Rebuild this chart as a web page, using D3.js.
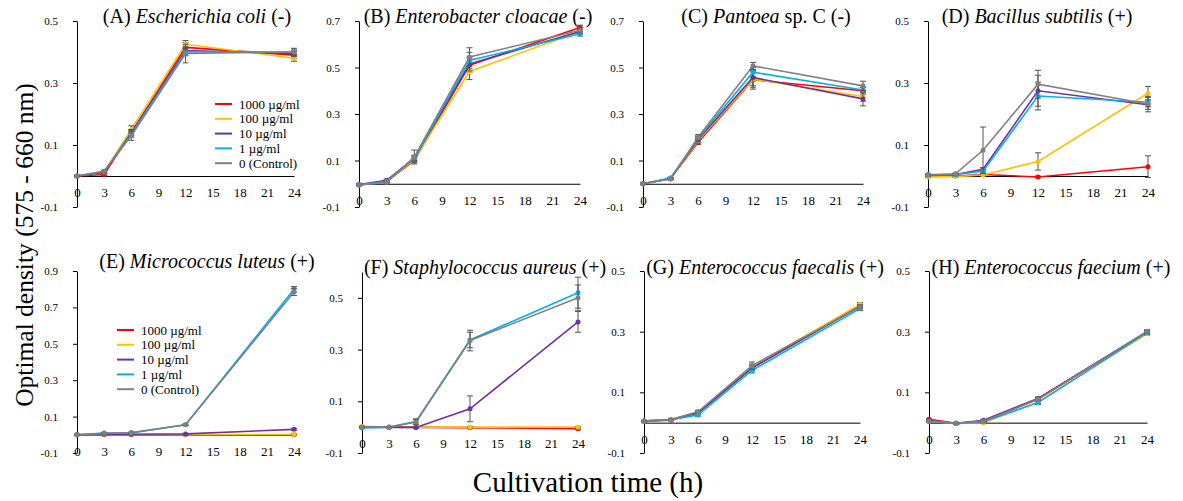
<!DOCTYPE html>
<html>
<head>
<meta charset="utf-8">
<script src="https://cdn.jsdelivr.net/npm/d3@7"></script>
<style>
body { margin: 0; background: #fff; }
svg, svg text { font-family: "Liberation Serif", "Times New Roman", serif; }
</style>
</head>
<body>
<svg id="chart" width="1183" height="501"></svg>
<script>
// sampling times (h) and treatment groups
const times = [0, 3, 6, 12, 24];
const concLabels = ["1000 \u00b5g/ml", "100 \u00b5g/ml", "10 \u00b5g/ml", "1 \u00b5g/ml", "0 (Control)"];
const concColors = ["#ff0000", "#ffc000", "#7030a0", "#00b0f0", "#808080"];
const xTicks = [0, 3, 6, 9, 12, 15, 18, 21, 24];

// mean OD per group: rows = 1000, 100, 10, 1, 0 (control)
const coliMean = [
    [0, 0.005, 0.14, 0.415, 0.39],
    [0, 0.012, 0.15, 0.425, 0.38],
    [0, 0.012, 0.14, 0.405, 0.395],
    [0, 0.015, 0.135, 0.40, 0.40],
    [0, 0.015, 0.13, 0.395, 0.40]
];
const coliErr = [
    [0.002, 0.003, 0.01, 0.015, 0.012],
    [0.002, 0.003, 0.012, 0.012, 0.01],
    [0.002, 0.003, 0.01, 0.012, 0.01],
    [0.002, 0.003, 0.01, 0.012, 0.01],
    [0.002, 0.004, 0.015, 0.03, 0.012]
];
const cloacaeMean = [
    [-0.005, 0.01, 0.10, 0.51, 0.672],
    [-0.005, 0.01, 0.105, 0.483, 0.655],
    [-0.003, 0.015, 0.11, 0.515, 0.655],
    [-0.005, 0.01, 0.11, 0.53, 0.645],
    [-0.005, 0.005, 0.115, 0.545, 0.66]
];
const cloacaeErr = [
    [0.003, 0.004, 0.01, 0.03, 0.01],
    [0.003, 0.004, 0.01, 0.035, 0.01],
    [0.003, 0.004, 0.01, 0.03, 0.01],
    [0.003, 0.004, 0.012, 0.035, 0.01],
    [0.003, 0.004, 0.03, 0.04, 0.012]
];
const pantoeaMean = [
    [0, 0.022, 0.178, 0.447, 0.40],
    [0, 0.022, 0.185, 0.45, 0.375],
    [0, 0.022, 0.19, 0.457, 0.365],
    [0, 0.025, 0.195, 0.48, 0.403],
    [0, 0.02, 0.199, 0.507, 0.421]
];
const pantoeaErr = [
    [0.002, 0.003, 0.01, 0.04, 0.015],
    [0.002, 0.003, 0.01, 0.035, 0.02],
    [0.002, 0.003, 0.01, 0.035, 0.03],
    [0.002, 0.003, 0.01, 0.02, 0.012],
    [0.002, 0.003, 0.012, 0.015, 0.02]
];
const subtilisMean = [
    [0.0, 0.0, 0.005, -0.003, 0.03],
    [-0.003, -0.002, 0.003, 0.047, 0.267],
    [0.003, 0.005, 0.022, 0.275, 0.23],
    [0.005, 0.005, 0.015, 0.258, 0.238],
    [0.003, 0.007, 0.083, 0.296, 0.232]
];
const subtilisErr = [
    [0.002, 0.002, 0.003, 0.003, 0.035],
    [0.002, 0.002, 0.003, 0.028, 0.022],
    [0.002, 0.002, 0.005, 0.05, 0.015],
    [0.002, 0.002, 0.005, 0.045, 0.015],
    [0.002, 0.003, 0.075, 0.045, 0.025]
];
const luteusMean = [
    [0, 0.0, 0.0, 0.0, 0.0],
    [0, 0.0, 0.0, 0.0, 0.002],
    [0, 0.003, 0.003, 0.005, 0.03],
    [0, 0.01, 0.01, 0.055, 0.80],
    [0, 0.008, 0.012, 0.055, 0.785]
];
const luteusErr = [
    [0.002, 0.002, 0.002, 0.002, 0.002],
    [0.002, 0.002, 0.002, 0.002, 0.003],
    [0.002, 0.002, 0.002, 0.003, 0.005],
    [0.002, 0.003, 0.003, 0.004, 0.015],
    [0.002, 0.003, 0.003, 0.004, 0.02]
];
const aureusMean = [
    [0, 0, 0, -0.002, -0.006],
    [0.003, 0.0, 0.0, 0.0, 0.0],
    [0, 0, -0.001, 0.071, 0.407],
    [-0.003, 0, 0.022, 0.337, 0.52],
    [0, 0, 0.02, 0.335, 0.50]
];
const aureusErr = [
    [0.002, 0.002, 0.002, 0.002, 0.003],
    [0.002, 0.002, 0.002, 0.002, 0.003],
    [0.002, 0.002, 0.003, 0.05, 0.04],
    [0.002, 0.002, 0.01, 0.03, 0.06],
    [0.002, 0.002, 0.01, 0.04, 0.05]
];
const faecalisMean = [
    [0.005, 0.008, 0.033, 0.182, 0.385],
    [0.005, 0.01, 0.035, 0.185, 0.39],
    [0.005, 0.01, 0.032, 0.18, 0.383],
    [0.005, 0.01, 0.025, 0.172, 0.376],
    [0.006, 0.01, 0.036, 0.188, 0.382]
];
const faecalisErr = [
    [0.002, 0.002, 0.004, 0.008, 0.006],
    [0.002, 0.002, 0.004, 0.008, 0.006],
    [0.002, 0.002, 0.004, 0.008, 0.006],
    [0.002, 0.002, 0.004, 0.008, 0.006],
    [0.002, 0.002, 0.005, 0.012, 0.006]
];
const faeciumMean = [
    [0.011, -0.002, 0.005, 0.078, 0.298],
    [0.005, -0.002, 0.0, 0.068, 0.293],
    [0.006, -0.002, 0.008, 0.08, 0.30],
    [0.004, -0.003, 0.003, 0.066, 0.297],
    [0.005, -0.002, 0.005, 0.077, 0.301]
];
const faeciumErr = [
    [0.002, 0.002, 0.003, 0.005, 0.005],
    [0.002, 0.002, 0.003, 0.005, 0.005],
    [0.002, 0.002, 0.003, 0.005, 0.005],
    [0.002, 0.002, 0.003, 0.006, 0.005],
    [0.002, 0.002, 0.003, 0.005, 0.005]
];

// panel layout: pixel box of each plot + its y domain and labelled ticks
const panels = [
    { id: "A", name: "Escherichia coli", after: " (-)", mean: coliMean, err: coliErr,
      x0: 77, x1: 294, top: 21, bottom: 207, ymax: 0.5, yTicks: [-0.1, 0.1, 0.3, 0.5],
      titleX: 197, titleY: 23, legend: { x: 215, y: 104 } },
    { id: "B", name: "Enterobacter cloacae", after: " (-)", mean: cloacaeMean, err: cloacaeErr,
      x0: 359, x1: 580, top: 21, bottom: 207, ymax: 0.7, yTicks: [-0.1, 0.1, 0.3, 0.5, 0.7],
      titleX: 478, titleY: 23 },
    { id: "C", name: "Pantoea", after: " sp. C (-)", mean: pantoeaMean, err: pantoeaErr,
      x0: 643, x1: 863, top: 21, bottom: 207, ymax: 0.7, yTicks: [-0.1, 0.1, 0.3, 0.5, 0.7],
      titleX: 766, titleY: 23 },
    { id: "D", name: "Bacillus subtilis", after: " (+)", mean: subtilisMean, err: subtilisErr,
      x0: 928, x1: 1148, top: 21, bottom: 207, ymax: 0.5, yTicks: [-0.1, 0.1, 0.3, 0.5],
      titleX: 1037, titleY: 23 },
    { id: "E", name: "Micrococcus luteus", after: " (+)", mean: luteusMean, err: luteusErr,
      x0: 77, x1: 294, top: 271, bottom: 453, ymax: 0.9, yTicks: [-0.1, 0.1, 0.3, 0.5, 0.7, 0.9],
      titleX: 207, titleY: 268, legend: { x: 117, y: 330 } },
    { id: "F", name: "Staphylococcus aureus", after: " (+)", mean: aureusMean, err: aureusErr,
      x0: 362, x1: 578, top: 272, bottom: 453, ymax: 0.6, yTicks: [-0.1, 0.1, 0.3, 0.5],
      titleX: 485, titleY: 274 },
    { id: "G", name: "Enterococcus faecalis", after: " (+)", mean: faecalisMean, err: faecalisErr,
      x0: 644, x1: 860, top: 271, bottom: 453, ymax: 0.5, yTicks: [-0.1, 0.1, 0.3, 0.5],
      titleX: 765, titleY: 274 },
    { id: "H", name: "Enterococcus faecium", after: " (+)", mean: faeciumMean, err: faeciumErr,
      x0: 929, x1: 1147, top: 271, bottom: 453, ymax: 0.5, yTicks: [-0.1, 0.1, 0.3, 0.5],
      titleX: 1051, titleY: 274 }
];

const serif = "'Liberation Serif', 'Times New Roman', serif";
const svg = d3.select("#chart");

panels.forEach(p => {
    const g = svg.append("g");
    const x = d3.scaleLinear().domain([0, 24]).range([p.x0, p.x1]);
    const y = d3.scaleLinear().domain([-0.1, p.ymax]).range([p.bottom, p.top]);

    // y axis
    const yAxis = g.append("g")
        .attr("transform", `translate(${p.x0},0)`)
        .call(d3.axisLeft(y).tickValues(p.yTicks).tickSize(4).tickSizeOuter(0)
            .tickPadding(15).tickFormat(d => d.toFixed(1)));
    yAxis.attr("font-family", serif);
    yAxis.selectAll("text").attr("font-size", 11).attr("font-family", serif).attr("fill", "#000");
    yAxis.selectAll("path, line").attr("stroke", "#000");

    // x axis sits on the zero line
    const xAxis = g.append("g")
        .attr("transform", `translate(0,${y(0)})`)
        .call(d3.axisBottom(x).tickValues(xTicks).tickSize(0).tickSizeOuter(0).tickPadding(12));
    xAxis.attr("font-family", serif);
    xAxis.selectAll("text").attr("font-size", 13).attr("font-family", serif).attr("fill", "#000");
    xAxis.selectAll("path").attr("stroke", "#000");

    // title
    const t = g.append("text")
        .attr("x", p.titleX).attr("y", p.titleY)
        .attr("text-anchor", "middle")
        .attr("font-family", serif)
        .attr("font-size", 20);
    t.append("tspan").text(`(${p.id}) `);
    t.append("tspan").attr("font-style", "italic").text(p.name);
    t.append("tspan").text(p.after);

    const line = d3.line().x((d, i) => x(times[i])).y(d => y(d));

    p.mean.forEach((series, s) => {
        const col = concColors[s];
        g.append("path")
            .datum(series)
            .attr("fill", "none")
            .attr("stroke", col)
            .attr("stroke-width", 1.6)
            .attr("d", line);

        const eb = g.append("g").attr("stroke", "#555").attr("stroke-width", 1);
        series.forEach((v, i) => {
            const e = p.err[s][i];
            const cx = x(times[i]);
            eb.append("line").attr("x1", cx).attr("x2", cx).attr("y1", y(v - e)).attr("y2", y(v + e));
            eb.append("line").attr("x1", cx - 3).attr("x2", cx + 3).attr("y1", y(v - e)).attr("y2", y(v - e));
            eb.append("line").attr("x1", cx - 3).attr("x2", cx + 3).attr("y1", y(v + e)).attr("y2", y(v + e));
        });

        g.selectAll(null)
            .data(series)
            .enter()
            .append("circle")
            .attr("cx", (d, i) => x(times[i]))
            .attr("cy", d => y(d))
            .attr("r", 2.5)
            .attr("fill", col);
    });

    if (p.legend) {
        const lg = g.append("g").attr("transform", `translate(${p.legend.x},${p.legend.y})`);
        concLabels.forEach((lab, i) => {
            const row = lg.append("g").attr("transform", `translate(0,${i * 14.8})`);
            row.append("line").attr("x1", 0).attr("x2", 17).attr("y1", 0).attr("y2", 0)
                .attr("stroke", concColors[i]).attr("stroke-width", 2);
            row.append("text").attr("x", 24).attr("dy", "0.35em")
                .attr("font-family", serif)
                .attr("font-size", 13).text(lab);
        });
    }
});

// shared axis titles
svg.append("text")
    .attr("transform", "translate(33,245) rotate(-90)")
    .attr("text-anchor", "middle")
    .attr("font-family", serif)
    .attr("font-size", 25.5)
    .text("Optimal density (575 - 660 nm)");

svg.append("text")
    .attr("x", 588).attr("y", 492)
    .attr("text-anchor", "middle")
    .attr("font-family", serif)
    .attr("font-size", 29)
    .text("Cultivation time (h)");
</script>
</body>
</html>
